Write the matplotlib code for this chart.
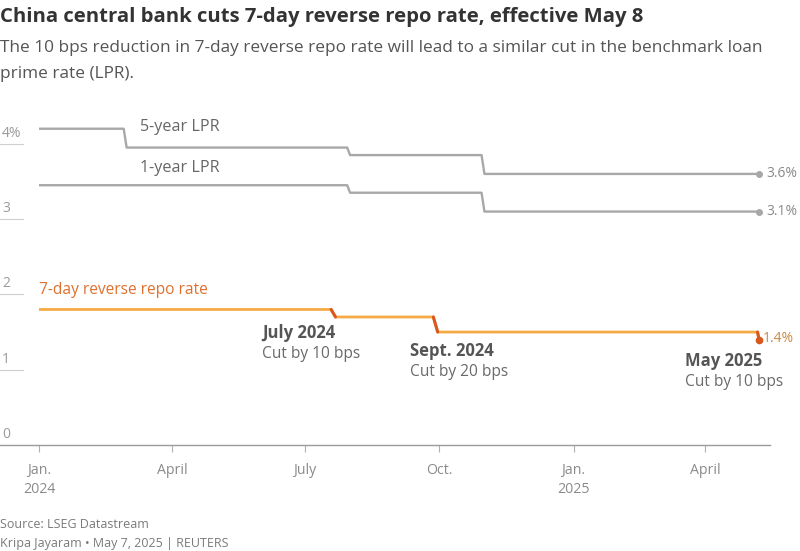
import numpy as np
import pandas as pd
import matplotlib
matplotlib.use("Agg")
import matplotlib.pyplot as plt
import matplotlib.dates as mdates

plt.rcParams['font.family'] = ['Open Sans', 'DejaVu Sans']

# data
lpr5_dates = ['2024-01-01', '2024-02-28', '2024-03-01', '2024-07-30', '2024-08-01',
              '2024-10-30', '2024-11-01', '2025-05-08']
lpr5_values = [4.2, 4.2, 3.95, 3.95, 3.85, 3.85, 3.6, 3.6]

lpr1_dates = ['2024-01-01', '2024-07-30', '2024-08-01', '2024-10-30', '2024-11-01', '2025-05-08']
lpr1_values = [3.45, 3.45, 3.35, 3.35, 3.1, 3.1]

repo_dates = ['2024-01-01', '2024-07-19', '2024-07-22', '2024-09-27', '2024-09-30',
              '2025-05-07', '2025-05-08']
repo_values = [1.8, 1.8, 1.7, 1.7, 1.5, 1.5, 1.4]

# index pairs in repo series that mark each cut
cut_pairs = [(1, 2), (3, 4), (5, 6)]
cut_titles = ['July 2024', 'Sept. 2024', 'May 2025']
cut_texts = ['Cut by 10 bps', 'Cut by 20 bps', 'Cut by 10 bps']

tick_dates = ['2024-01-01', '2024-04-01', '2024-07-01', '2024-10-01', '2025-01-01', '2025-04-01']
tick_labels = ['Jan.\n2024', 'April', 'July', 'Oct.', 'Jan.\n2025', 'April']
y_ticks = [0, 1, 2, 3, 4]
y_labels = ['0', '1', '2', '3', '4%']

GRAY = '#a8a8a8'
ORANGE = '#f5ab45'
DARK_OR = '#d9581e'
TXT = '#555555'
LIGHT = '#8a8a8a'

lpr5_d = pd.to_datetime(lpr5_dates)
lpr1_d = pd.to_datetime(lpr1_dates)
repo_d = pd.to_datetime(repo_dates)

W, H = 800, 551
fig = plt.figure(figsize=(W / 100, H / 100), dpi=100)

# axes placement in pixels: x 0..770, y baseline at 445, top at 100
ax = fig.add_axes([0, (H - 445) / H, 770 / W, 345 / H])
px_per_day = 666 / 456.0
start = pd.Timestamp('2024-01-01')
x0 = mdates.date2num(start)
ax.set_xlim(x0 - 39 / px_per_day, x0 + (770 - 39) / px_per_day)
ax.set_ylim(0, 345 / 75.3)

for s in ['top', 'right', 'left']:
    ax.spines[s].set_visible(False)
ax.spines['bottom'].set_color('#9a9a9a')
ax.spines['bottom'].set_linewidth(1.0)

ax.set_xticks(mdates.date2num(pd.to_datetime(tick_dates)))
ax.set_xticklabels(tick_labels, fontsize=10.2, color=LIGHT, linespacing=1.4)
ax.tick_params(axis='x', length=5, color='#b0b0b0', pad=8)
ax.set_yticks([])

# short y stubs with labels above them
ytr = ax.get_yaxis_transform()
for v, lab in zip(y_ticks, y_labels):
    if v > 0:
        ax.plot([0, 23 / 770], [v, v], color='#cfcfcf', lw=0.8, transform=ytr, clip_on=False)
    ax.text(2 / 770, v + 0.14, lab, transform=ytr, fontsize=10, color='#9a9a9a',
            va='center', ha='left')

# lines
ax.plot(lpr5_d, lpr5_values, color=GRAY, lw=1.7, solid_capstyle='butt')
ax.plot(lpr1_d, lpr1_values, color=GRAY, lw=1.7, solid_capstyle='butt')
ax.plot(lpr5_d[-1], lpr5_values[-1], 'o', color=GRAY, ms=4)
ax.plot(lpr1_d[-1], lpr1_values[-1], 'o', color=GRAY, ms=4)

ax.plot(repo_d, repo_values, color=ORANGE, lw=2.0, solid_capstyle='butt')
for i, j in cut_pairs:
    ax.plot(repo_d[i:j + 1], repo_values[i:j + 1], color=DARK_OR, lw=2.2,
            solid_capstyle='round')
ax.plot(repo_d[-1], repo_values[-1], 'o', color=DARK_OR, ms=4.5)

# series labels
ax.text(pd.Timestamp('2024-03-10'), 4.22, '5-year LPR', fontsize=11.6, color='#666666', va='center')
ax.text(pd.Timestamp('2024-03-10'), 3.68, '1-year LPR', fontsize=11.6, color='#666666', va='center')
ax.text(pd.Timestamp('2024-01-01'), 2.06, '7-day reverse repo rate', fontsize=11.2,
        color='#e0702e', va='center')

# end labels
ax.annotate('3.6%', (lpr5_d[-1], lpr5_values[-1]), xytext=(7, 0), textcoords='offset pixels',
            fontsize=10, color='#8a8a8a', va='center', annotation_clip=False)
ax.annotate('3.1%', (lpr1_d[-1], lpr1_values[-1]), xytext=(7, 0), textcoords='offset pixels',
            fontsize=10, color='#8a8a8a', va='center', annotation_clip=False)
ax.annotate('1.4%', (repo_d[-1], repo_values[-1]), xytext=(4, 1), textcoords='offset pixels',
            fontsize=10, color='#c98a45', va='center', annotation_clip=False)

# cut annotations
ann_pos = [(pd.Timestamp('2024-06-02'), 1.49), (pd.Timestamp('2024-09-11'), 1.25),
           (pd.Timestamp('2025-03-18'), 1.12)]
for (d, v), t1, t2 in zip(ann_pos, cut_titles, cut_texts):
    ax.text(d, v, t1, fontsize=12, fontweight='bold', color=TXT, va='center')
    ax.text(d, v - 0.285, t2, fontsize=11.2, color='#6a6a6a', va='center')

# title block
fig.text(0, 1 - 17 / H, 'China central bank cuts 7-day reverse repo rate, effective May 8',
         fontsize=14.6, fontweight='bold', color='#333333', va='center', ha='left')
fig.text(0, 1 - 48 / H, 'The 10 bps reduction in 7-day reverse repo rate will lead to a similar cut in the benchmark loan',
         fontsize=12.4, color=TXT, va='center', ha='left')
fig.text(0, 1 - 74 / H, 'prime rate (LPR).', fontsize=12.4, color=TXT, va='center', ha='left')

# footer
fig.text(0, 1 - 524 / H, 'Source: LSEG Datastream', fontsize=9, color='#7a7a7a', va='center')
fig.text(0, 1 - 543 / H, 'Kripa Jayaram \u2022 May 7, 2025 | REUTERS', fontsize=9,
         color='#7a7a7a', va='center')

fig.savefig('out.png', dpi=100)
